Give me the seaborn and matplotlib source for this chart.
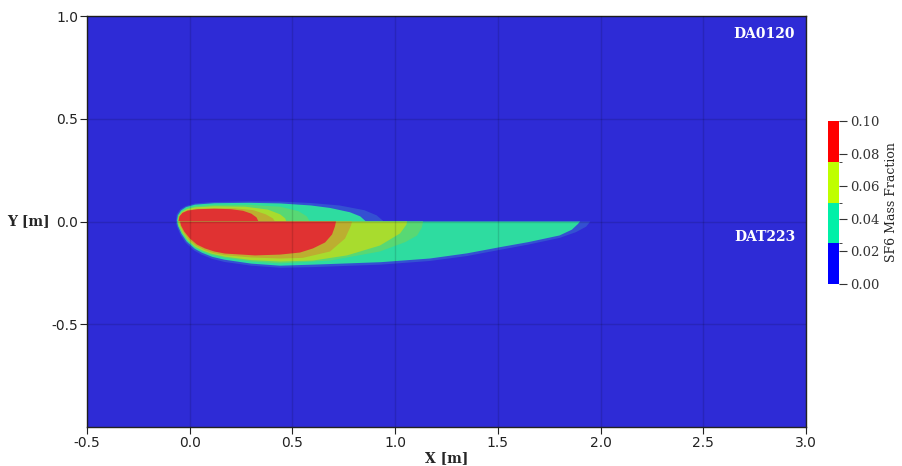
import numpy as np
import matplotlib
matplotlib.use("Agg")
import matplotlib.pyplot as plt
from matplotlib.colors import ListedColormap, BoundaryNorm
from matplotlib.cm import ScalarMappable
import seaborn as sns

# ---------------- data ----------------
# Upper half: case DA0120 (contour outlines, x [m], y [m])
up_rim_x = [-0.068, -0.063, -0.045, -0.02, 0.026, 0.12, 0.29, 0.44, 0.59, 0.73, 0.85, 0.91, 0.945]
up_rim_y = [0.0, 0.035, 0.06, 0.075, 0.088, 0.095, 0.098, 0.097, 0.09, 0.078, 0.055, 0.03, 0.0]
up_teal_x = [-0.062, -0.058, -0.042, -0.018, 0.026, 0.12, 0.29, 0.44, 0.59, 0.683, 0.78, 0.83, 0.858]
up_teal_y = [0.0, 0.03, 0.054, 0.07, 0.082, 0.089, 0.091, 0.088, 0.078, 0.066, 0.045, 0.025, 0.0]
up_lg_x = [-0.06, -0.055, -0.04, -0.016, 0.026, 0.12, 0.29, 0.44, 0.53, 0.57, 0.585]
up_lg_y = [0.0, 0.028, 0.05, 0.064, 0.075, 0.081, 0.081, 0.072, 0.05, 0.025, 0.0]
up_yel_x = [-0.058, -0.053, -0.038, -0.014, 0.026, 0.12, 0.27, 0.38, 0.44, 0.465, 0.47]
up_yel_y = [0.0, 0.026, 0.046, 0.06, 0.069, 0.074, 0.072, 0.058, 0.035, 0.015, 0.0]
up_oli_x = [-0.057, -0.052, -0.037, -0.012, 0.03, 0.12, 0.22, 0.31, 0.37, 0.405, 0.415]
up_oli_y = [0.0, 0.024, 0.043, 0.055, 0.062, 0.065, 0.064, 0.055, 0.035, 0.015, 0.0]
up_red_x = [-0.055, -0.05, -0.035, -0.01, 0.04, 0.12, 0.2, 0.26, 0.3, 0.325, 0.335]
up_red_y = [0.0, 0.025, 0.042, 0.053, 0.06, 0.062, 0.06, 0.052, 0.038, 0.02, 0.0]

# Lower half: case DAT223
lo_rim_x = [-0.068, -0.062, -0.045, -0.02, 0.02, 0.055, 0.11, 0.17, 0.3, 0.44, 0.6, 0.93, 1.17, 1.35, 1.51, 1.65, 1.8, 1.88, 1.93, 1.95]
lo_rim_y = [0.0, -0.025, -0.065, -0.103, -0.14, -0.16, -0.182, -0.197, -0.215, -0.225, -0.222, -0.21, -0.192, -0.168, -0.138, -0.112, -0.08, -0.052, -0.025, 0.0]
lo_teal_x = [-0.062, -0.057, -0.04, -0.015, 0.025, 0.06, 0.11, 0.17, 0.3, 0.44, 0.6, 0.93, 1.17, 1.35, 1.51, 1.65, 1.8, 1.86, 1.89, 1.9]
lo_teal_y = [0.0, -0.022, -0.06, -0.097, -0.133, -0.152, -0.172, -0.186, -0.205, -0.215, -0.21, -0.198, -0.18, -0.155, -0.125, -0.1, -0.068, -0.04, -0.012, 0.0]
lo_lg_x = [-0.06, -0.055, -0.038, -0.012, 0.025, 0.062, 0.11, 0.17, 0.3, 0.44, 0.683, 0.926, 1.05, 1.107, 1.13, 1.136]
lo_lg_y = [0.0, -0.022, -0.058, -0.093, -0.127, -0.146, -0.164, -0.177, -0.195, -0.204, -0.19, -0.146, -0.1, -0.068, -0.03, 0.0]
lo_yel_x = [-0.057, -0.052, -0.035, -0.01, 0.025, 0.065, 0.11, 0.17, 0.3, 0.44, 0.6, 0.766, 0.926, 1.024, 1.055, 1.058]
lo_yel_y = [0.0, -0.021, -0.055, -0.09, -0.122, -0.142, -0.158, -0.171, -0.188, -0.195, -0.19, -0.165, -0.117, -0.058, -0.015, 0.0]
lo_oli_x = [-0.052, -0.047, -0.03, -0.005, 0.03, 0.07, 0.11, 0.17, 0.3, 0.44, 0.55, 0.683, 0.756, 0.785, 0.79]
lo_oli_y = [0.0, -0.02, -0.053, -0.088, -0.118, -0.138, -0.152, -0.164, -0.175, -0.18, -0.177, -0.146, -0.083, -0.02, 0.0]
lo_red_x = [-0.047, -0.042, -0.026, 0.001, 0.035, 0.074, 0.12, 0.172, 0.318, 0.44, 0.537, 0.6, 0.659, 0.693, 0.707, 0.712]
lo_red_y = [0.0, -0.02, -0.05, -0.083, -0.112, -0.131, -0.146, -0.156, -0.165, -0.161, -0.151, -0.131, -0.102, -0.063, -0.024, 0.0]

x_ticks = [-0.5, 0.0, 0.5, 1.0, 1.5, 2.0, 2.5, 3.0]
y_ticks = [-0.5, 0.0, 0.5, 1.0]
cbar_bounds = [0.0, 0.025, 0.05, 0.075, 0.10]
cbar_ticks = [0.00, 0.02, 0.04, 0.06, 0.08, 0.10]
case_labels = ["DA0120", "DAT223"]

# ---------------- style ----------------
sns.set_style("ticks")
plt.rcParams["font.family"] = ["DejaVu Sans"]

bg_col = "#2E2BD6"
rim_col = "#3450D2"
teal_col = "#2EDCA0"
lg_col = "#58D874"
yel_col = "#A8DC2E"
oli_col = "#BCAE30"
red_col = "#E03232"

fig = plt.figure(figsize=(9.03, 4.66), dpi=100)
ax = fig.add_axes([87 / 903, 39 / 466, 719 / 903, 411 / 466])
ax.set_facecolor(bg_col)

layers = [
    (up_rim_x, up_rim_y, rim_col), (up_teal_x, up_teal_y, teal_col),
    (up_lg_x, up_lg_y, lg_col), (up_yel_x, up_yel_y, yel_col),
    (up_oli_x, up_oli_y, oli_col), (up_red_x, up_red_y, red_col),
    (lo_rim_x, lo_rim_y, rim_col), (lo_teal_x, lo_teal_y, teal_col),
    (lo_lg_x, lo_lg_y, lg_col), (lo_yel_x, lo_yel_y, yel_col),
    (lo_oli_x, lo_oli_y, oli_col), (lo_red_x, lo_red_y, red_col),
]
for xs, ys, c in layers:
    ax.fill(xs, ys, color=c, lw=0, zorder=1)

ax.set_xlim(-0.5, 3.0)
ax.set_ylim(-1.0, 1.0)
ax.set_xticks(x_ticks)
ax.set_yticks(y_ticks)
ax.set_xticklabels([f"{v:.1f}" for v in x_ticks])
ax.set_yticklabels([f"{v:.1f}" for v in y_ticks])
ax.tick_params(axis="both", direction="out", length=5, width=0.8, labelsize=10,
               colors="#222222", pad=1.5)
ax.set_axisbelow(False)
ax.grid(True, color="#000000", alpha=0.13, lw=1.0, zorder=2.5)
for s in ax.spines.values():
    s.set_linewidth(1.0)
    s.set_color("#222222")

ax.set_xlabel("X [m]", fontfamily="DejaVu Serif", fontweight="bold", fontsize=10, labelpad=1)
ax.set_ylabel("Y [m]", fontfamily="DejaVu Serif", fontweight="bold", fontsize=10,
              rotation=0, ha="right", va="center")
ax.yaxis.set_label_coords(-0.052, 0.5)

ax.text(0.985, 0.955, case_labels[0], transform=ax.transAxes, ha="right", va="center",
        color="white", fontfamily="DejaVu Serif", fontweight="bold", fontsize=10)
ax.text(0.985, 0.463, case_labels[1], transform=ax.transAxes, ha="right", va="center",
        color="white", fontfamily="DejaVu Serif", fontweight="bold", fontsize=10)

# ---------------- colorbar ----------------
cmap = ListedColormap(["#0000FF", "#00F0A8", "#BFFF00", "#FF0000"])
norm = BoundaryNorm(cbar_bounds, cmap.N)
cax = fig.add_axes([828 / 903, 182 / 466, 11 / 903, 163 / 466])
cb = fig.colorbar(ScalarMappable(norm=norm, cmap=cmap), cax=cax, ticks=cbar_ticks,
                  spacing="proportional")
cb.outline.set_visible(False)
cb.ax.set_yticklabels([f"{v:.2f}" for v in cbar_ticks], fontfamily="DejaVu Serif", fontsize=9.5)
cb.ax.tick_params(length=6, width=0.8, colors="#333333", pad=2)
cb.set_label("SF6 Mass Fraction", fontfamily="DejaVu Serif", fontsize=9, labelpad=4)

fig.savefig("out.png", dpi=100)
